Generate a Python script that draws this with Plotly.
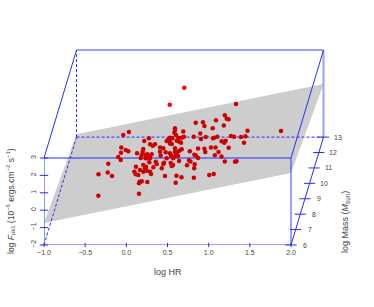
import plotly.graph_objects as go

# Points, in the front plane of the box (log HR, log F)
hr_on = [-0.34,-0.338,-0.226,-0.174,-0.219,-0.098,-0.065,-0.068,-0.061,-0.008,0.024,-0.037,0.032,0.13,0.218,0.275,0.206,0.199,0.187,0.175,
 0.235,0.255,0.288,0.308,0.235,0.255,0.288,0.288,0.32,0.348,0.409,0.449,0.409,0.417,0.478,0.49,0.53,0.49,0.51,0.53,
 0.591,0.583,0.603,0.692,0.631,0.673,0.70,0.664,0.612,0.591,0.673,0.643,0.591,0.612,0.551,0.60,0.628,0.539,0.567,0.64,
 0.551,0.449,0.43,0.357,0.369,0.328,0.117,0.206,0.227,0.097,0.114,0.145,0.166,0.206,0.247,0.288,0.30,0.162,0.154,0.187,
 0.255,0.154,0.47,0.609,0.67,0.60,1.332,1.196,1.089,1.219,1.243,1.472,1.879,1.184,1.049,0.843,0.931,0.949,0.898,0.907,
 0.819,0.964,1.053,1.065,1.105,1.158,1.19,1.207,1.271,1.308,1.393,1.447,1.429,1.243,1.028,1.083,1.12,1.075,1.156,1.196,
 1.32,1.338,1.007,1.061,0.82,0.871,0.949,0.959,0.771,0.826,0.846,0.871,0.761,0.779,0.83,0.824,0.737,0.53,0.543,0.57,
 0.53,0.558,0.643,0.591,0.551,0.239,0.279,0.458]
flux_on = [0.83,2.06,2.16,1.97,2.67,3.06,3.30,2.89,3.61,3.46,3.39,4.32,4.49,3.27,3.98,4.13,3.52,3.36,3.17,3.0,
 3.17,3.21,3.11,3.21,2.98,2.98,2.98,3.79,3.71,3.79,3.61,3.56,3.36,3.13,3.33,2.98,3.84,3.98,4.07,4.17,
 4.61,4.45,4.32,4.53,4.17,4.17,4.22,3.88,3.99,3.56,3.5,3.42,3.36,3.27,3.13,3.13,3.11,2.71,2.6,2.83,
 2.54,2.66,2.41,2.79,2.66,2.47,2.5,2.6,2.41,2.21,2.06,2.02,2.31,2.21,2.27,2.21,2.08,1.64,1.55,1.66,
 1.62,0.95,1.97,1.98,1.89,1.58,6.10,5.46,5.17,5.25,5.23,4.57,4.55,4.87,4.71,5.02,5.06,4.84,4.41,4.09,
 4.22,4.2,4.14,4.17,4.22,3.96,3.88,3.99,4.26,4.22,4.21,4.25,3.88,3.59,3.6,3.6,3.34,3.16,3.09,2.8,
 2.79,2.81,2.02,2.08,1.87,3.55,3.53,3.34,3.39,3.18,3.14,3.0,2.87,2.8,2.64,2.41,2.59,3.27,3.11,2.98,
 4.03,4.13,3.94,4.71,3.8,2.5,2.75,2.73]
hr_above = [0.704,0.527]
flux_above = [7.04,6.06]

# Regression plane corners
plane_hr = [-1,2,2,-1,-1]
plane_mass = [6,6,13,13,6]
plane_flux = [-0.74,2.14,1.05,-1.83,-0.74]

hr_ticks = [-1.0,-0.5,0.0,0.5,1.0,1.5,2.0]
hr_labels = ["\u22121.0","\u22120.5","0.0","0.5","1.0","1.5","2.0"]
flux_ticks = [-2,-1,0,1,2,3]
flux_labels = ["\u22122","\u22121","0","1","2","3"]
mass_ticks = [6,7,8,9,10,11,12,13]

HR_MIN, HR_MAX, F_MIN, F_MAX, M_MIN, M_MAX = -1, 2, -2, 3, 6, 13
SHEAR_X, SHEAR_Y = 0.395, 6.2

def px(h, m):
    return [a + (b - M_MIN) / (M_MAX - M_MIN) * SHEAR_X for a, b in zip(h, m)]
def py(f, m):
    return [a + (b - M_MIN) / (M_MAX - M_MIN) * SHEAR_Y for a, b in zip(f, m)]

BLUE = "#2a2aff"
LIGHT = "rgba(40,40,255,0.45)"
fig = go.Figure()

fig.add_trace(go.Scatter(x=px(plane_hr, plane_mass), y=py(plane_flux, plane_mass), mode="lines",
    fill="toself", fillcolor="#cdcdcd", line=dict(width=0), hoverinfo="skip", cliponaxis=False))

def edge(h, m, f, color=BLUE, width=1, dash="solid"):
    fig.add_trace(go.Scatter(x=px(h, m), y=py(f, m), mode="lines",
        line=dict(color=color, width=width, dash=dash), hoverinfo="skip", cliponaxis=False))

# dashed back edges
edge([HR_MIN, HR_MIN], [M_MIN, M_MAX], [F_MIN, F_MIN], dash="3px,2px")
edge([HR_MIN, HR_MAX], [M_MAX, M_MAX], [F_MIN, F_MIN], dash="3px,2px")
edge([HR_MIN, HR_MIN], [M_MAX, M_MAX], [F_MIN, F_MAX], dash="3px,2px")
# solid edges
edge([HR_MIN, HR_MIN], [M_MIN, M_MIN], [F_MIN, F_MAX])
edge([HR_MIN, HR_MAX], [M_MIN, M_MIN], [F_MAX, F_MAX])
edge([HR_MIN, HR_MIN], [M_MIN, M_MAX], [F_MAX, F_MAX])
edge([HR_MAX, HR_MAX], [M_MIN, M_MAX], [F_MAX, F_MAX])
edge([HR_MAX, HR_MAX], [M_MIN, M_MAX], [F_MIN, F_MIN])
# pale, wider edges
edge([HR_MIN, HR_MAX], [M_MIN, M_MIN], [F_MIN, F_MIN], LIGHT, 2)
edge([HR_MAX, HR_MAX], [M_MIN, M_MIN], [F_MIN, F_MAX], LIGHT, 2)
edge([HR_MIN, HR_MAX], [M_MAX, M_MAX], [F_MAX, F_MAX], LIGHT, 2)
edge([HR_MAX, HR_MAX], [M_MAX, M_MAX], [F_MIN, F_MAX], LIGHT, 2)

# tick marks on the box
def ticks(x, y, sym, size):
    fig.add_trace(go.Scatter(x=x, y=y, mode="markers", hoverinfo="skip", cliponaxis=False,
        marker=dict(symbol=sym, size=size, color=BLUE, line=dict(color=BLUE, width=1))))
ticks(hr_ticks, [F_MIN] * len(hr_ticks), "line-ns", 3)
ticks([HR_MIN] * len(flux_ticks), flux_ticks, "line-ew", 6)
ticks(px([HR_MAX] * len(mass_ticks), mass_ticks), py([F_MIN] * len(mass_ticks), mass_ticks), "line-ew", 8)

fig.add_trace(go.Scatter(x=hr_on, y=flux_on, mode="markers", hoverinfo="skip", cliponaxis=False,
    marker=dict(color="#cf0000", size=4.5, line=dict(width=0))))
fig.add_trace(go.Scatter(x=hr_above, y=flux_above, mode="markers", hoverinfo="skip", cliponaxis=False,
    marker=dict(color="#ff0000", size=4.5, line=dict(width=0))))

ann = []
TEXT = "#444444"
for m, mx, my in zip(mass_ticks, px([HR_MAX] * len(mass_ticks), mass_ticks), py([F_MIN] * len(mass_ticks), mass_ticks)):
    ann.append(dict(x=mx, y=my, xref="x", yref="y", text=str(m), showarrow=False, xshift=14,
                    font=dict(size=7, color=TEXT)))
L, R, T, B = 44, 40, 41, 62
W, H = 374 - L - R, 307 - T - B
def title(cx, cy, text, angle=0, size=9):
    ann.append(dict(xref="paper", yref="paper", x=(cx - L) / W, y=(307 - B - cy) / H, text=text,
                    xanchor="center", yanchor="middle", textangle=angle, showarrow=False,
                    font=dict(size=size, color=TEXT)))
title(168, 272, "log HR")
title(345, 222, "log Mass (<i>M</i><sub>sun</sub>)", -90)
title(10, 201, "log <i>F</i><sub>pk1</sub> (10<sup>\u22126</sup> ergs.cm<sup>\u22122</sup> s<sup>\u22121</sup>)", -90, 8.5)

fig.update_layout(
    width=374, height=307, showlegend=False, plot_bgcolor="white", paper_bgcolor="white",
    margin=dict(l=L, r=R, t=T, b=B, pad=0), annotations=ann,
    font=dict(family="Liberation Sans", color=TEXT),
    xaxis=dict(range=[HR_MIN, HR_MIN + W / 82.33], tickvals=hr_ticks, ticktext=hr_labels, showgrid=False, zeroline=False,
               showline=False, ticks="", tickfont=dict(size=7), ticklabelstandoff=2),
    yaxis=dict(range=[F_MIN, F_MIN + H / 17.4], tickvals=flux_ticks, ticktext=flux_labels, showgrid=False, zeroline=False,
               showline=False, ticks="", tickangle=-90, tickfont=dict(size=7), ticklabelstandoff=6),
)
fig.write_html("out.html", config=dict(displayModeBar=False), post_script="document.body.style.margin='0';")
